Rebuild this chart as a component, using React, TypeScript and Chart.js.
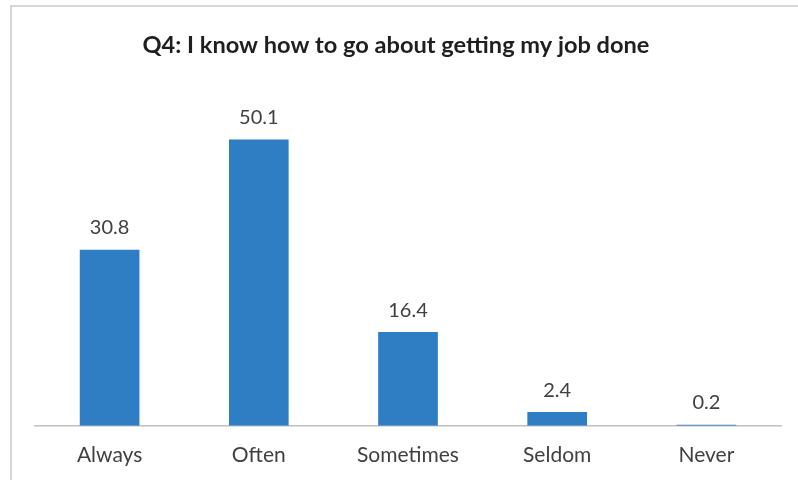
import React, { useEffect, useRef } from "react";
import { Chart, registerables } from "chart.js";

Chart.register(...registerables);

const categories = ["Always", "Often", "Sometimes", "Seldom", "Never"];
const values = [30.8, 50.1, 16.4, 2.4, 0.2];
const valueLabels = ["30.8", "50.1", "16.4", "2.4", "0.2"];
const titleText = "Q4: I know how to go about getting my job done";

const FONT = "Lato, 'Open Sans', sans-serif";

const dataLabelPlugin = {
  id: "dataLabels",
  afterDatasetsDraw(chart: any) {
    const ctx = chart.ctx;
    const meta = chart.getDatasetMeta(0);
    ctx.save();
    ctx.fillStyle = "#404040";
    ctx.font = `20px ${FONT}`;
    ctx.textAlign = "center";
    ctx.textBaseline = "middle";
    meta.data.forEach((bar: any, i: number) => {
      ctx.fillText(valueLabels[i], bar.x, bar.y - 22);
    });
    ctx.restore();
  },
};

const titlePlugin = {
  id: "customTitle",
  afterDraw(chart: any) {
    const ctx = chart.ctx;
    ctx.save();
    ctx.fillStyle = "#1f1f1f";
    ctx.font = `bold 23.6px ${FONT}`;
    ctx.textAlign = "center";
    ctx.textBaseline = "middle";
    ctx.fillText(titleText, 396, 45);
    ctx.restore();
  },
};

export default function App() {
  const ref = useRef<HTMLCanvasElement>(null);
  useEffect(() => {
    if (!ref.current) return;
    const chart = new Chart(ref.current, {
      type: "bar",
      data: {
        labels: categories,
        datasets: [
          {
            data: values,
            backgroundColor: "#2f7ec4",
            barPercentage: 0.4,
            categoryPercentage: 1,
          },
        ],
      },
      options: {
        responsive: false,
        animation: false,
        layout: { padding: { left: 35, right: 17, top: 83, bottom: -5 } },
        plugins: {
          legend: { display: false },
          tooltip: { enabled: false },
          title: { display: false },
        },
        scales: {
          x: {
            grid: { display: false, drawTicks: false },
            border: { display: true, color: "#c0c0c0", width: 1.5 },
            ticks: {
              color: "#404040",
              font: { family: FONT, size: 21, lineHeight: 1.2 },
              padding: 17,
            },
          },
          y: {
            display: false,
            min: 0,
            max: 60,
          },
        },
      },
      plugins: [dataLabelPlugin, titlePlugin],
    });
    return () => chart.destroy();
  }, []);
  return (
    <div
      style={{
        position: "fixed",
        left: 0,
        top: 0,
        width: 798,
        height: 480,
        background: "#fff",
        overflow: "hidden",
      }}
    >
      <div
        style={{
          position: "absolute",
          left: 10,
          top: 5,
          width: 800,
          height: 490,
          border: "2px solid #d6d6d6",
          boxSizing: "border-box",
        }}
      />
      <canvas
        ref={ref}
        width={798}
        height={480}
        style={{ position: "absolute", left: 0, top: 0 }}
      />
    </div>
  );
}
